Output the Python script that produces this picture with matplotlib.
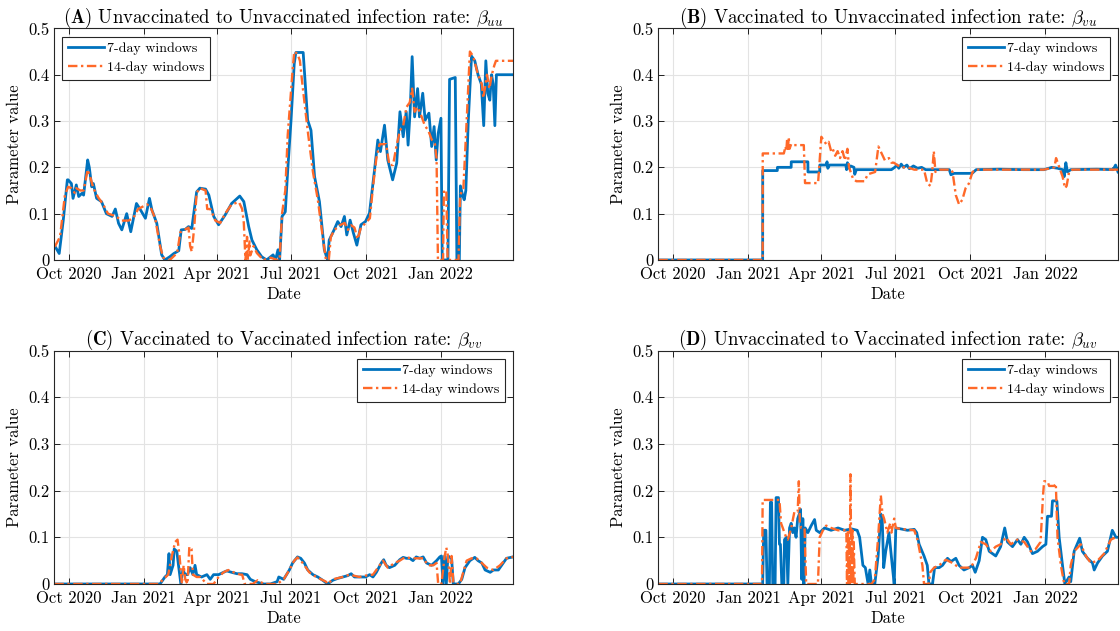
import numpy as np
import matplotlib
matplotlib.use('Agg')
import matplotlib.pyplot as plt
import matplotlib.dates as mdates
from datetime import datetime

plt.rcParams['font.family'] = ['cmr10', 'DejaVu Serif']
plt.rcParams['mathtext.fontset'] = 'cm'
plt.rcParams['axes.unicode_minus'] = False
plt.rcParams['axes.formatter.use_mathtext'] = True

# days counted from 1 Oct 2020
tick_days = [0, 92, 182, 273, 365, 457]
tick_labels = ['Oct 2020', 'Jan 2021', 'Apr 2021', 'Jul 2021', 'Oct 2021', 'Jan 2022']

a_7day = [(-18, 0.03), (-17, 0.029), (-12, 0.014), (-7, 0.086), (-2, 0.173), (-1, 0.173), (3, 0.165), (5, 0.133),
          (9, 0.162), (12, 0.137), (16, 0.144), (18, 0.14), (23, 0.216), (25, 0.20), (28, 0.158), (30, 0.165),
          (34, 0.133), (40, 0.126), (46, 0.10), (53, 0.094), (57, 0.11), (61, 0.079), (65, 0.065), (71, 0.10),
          (76, 0.061), (83, 0.122), (88, 0.108), (94, 0.09), (99, 0.133), (102, 0.108), (108, 0.079), (114, 0.011),
          (118, 0.0), (124, 0.007), (129, 0.014), (135, 0.02), (138, 0.065), (143, 0.066), (147, 0.072), (151, 0.068),
          (157, 0.147), (161, 0.155), (168, 0.153), (172, 0.14), (178, 0.094), (184, 0.076), (192, 0.097), (200, 0.122),
          (210, 0.138), (215, 0.126), (221, 0.072), (225, 0.043), (231, 0.022), (237, 0.007), (243, 0.0), (251, 0.011),
          (254, 0.0), (257, 0.022), (259, 0.0), (262, 0.094), (266, 0.104), (269, 0.194), (273, 0.30), (277, 0.424),
          (279, 0.448), (288, 0.448), (293.5, 0.302), (297.6, 0.28), (302, 0.18), (308, 0.126), (314, 0.022), (318, 0.0),
          (320, 0.043), (326, 0.065), (330.5, 0.083), (334.6, 0.072), (338.7, 0.094), (341.6, 0.054), (345.7, 0.086),
          (349.8, 0.058), (354, 0.032), (359, 0.076), (364.6, 0.083), (369.5, 0.101), (375.7, 0.194), (379.8, 0.259),
          (383, 0.234), (388, 0.291), (392, 0.216), (398, 0.173), (403, 0.209), (407, 0.32), (411, 0.266), (414.7, 0.32),
          (417, 0.248), (419.6, 0.324), (422, 0.439), (425, 0.309), (428.7, 0.37), (431, 0.309), (435, 0.36), (438, 0.302),
          (442.6, 0.317), (446, 0.245), (449, 0.288), (451.6, 0.216), (454, 0.273), (457.4, 0.306), (459, 0.0), (466, 0.0),
          (468, 0.39), (475, 0.394), (477, 0.0), (480, 0.0), (481.3, 0.16), (484, 0.14), (486, 0.13), (488, 0.15),
          (491, 0.30), (495, 0.44), (499, 0.43), (503, 0.40), (507, 0.38), (510, 0.29), (512.6, 0.43), (515, 0.36),
          (517.5, 0.345), (519.6, 0.40), (521.6, 0.38), (523.7, 0.29), (525.6, 0.40), (546, 0.40)]
a_14day = [(-18, 0.03), (-17, 0.03), (-11, 0.05), (-5, 0.14), (-1, 0.158), (3, 0.155), (7, 0.145), (9, 0.155), (14, 0.15),
           (18, 0.15), (23, 0.195), (26, 0.18), (30, 0.155), (36, 0.135), (42, 0.12), (48, 0.10), (57, 0.095), (65, 0.085),
           (73, 0.085), (79, 0.09), (85, 0.11), (96, 0.12), (100, 0.115), (106, 0.09), (112, 0.03), (116, 0.005), (124, 0.0),
           (133, 0.015), (137, 0.06), (145, 0.068), (147, 0.07), (149, 0.03), (151, 0.018), (154, 0.07), (157, 0.145),
           (161, 0.155), (168, 0.15), (170, 0.11), (174, 0.11), (180, 0.085), (186, 0.08), (192, 0.10), (200, 0.12),
           (209, 0.125), (213, 0.11), (215, 0.08), (217, 0.0), (219, 0.05), (220, 0.0), (222, 0.04), (223, 0.01),
           (227, 0.03), (231, 0.015), (239, 0.0), (248, 0.005), (256, 0.0), (259, 0.0), (262, 0.1), (266, 0.15),
           (269, 0.27), (275, 0.41), (277, 0.45), (281, 0.445), (284, 0.43), (287, 0.38), (293.5, 0.28), (300, 0.19),
           (306, 0.13), (312, 0.05), (316, 0.0), (319.5, 0.0), (322, 0.05), (326.5, 0.065), (333, 0.075), (339, 0.08),
           (343, 0.065), (347, 0.075), (351, 0.07), (355, 0.045), (359, 0.07), (365, 0.08), (370, 0.09), (374, 0.16),
           (378, 0.22), (382, 0.25), (386, 0.25), (390, 0.25), (394, 0.205), (398.5, 0.205), (402.6, 0.245), (407, 0.28),
           (411, 0.29), (415, 0.33), (419, 0.34), (422, 0.37), (425, 0.32), (429, 0.33), (433.5, 0.31), (437.6, 0.29),
           (441.7, 0.28), (446, 0.26), (450, 0.25), (452, 0.22), (453.7, 0.0), (460, 0.0), (461, 0.15), (464, 0.15),
           (465.6, 0.0), (479, 0.0), (481, 0.14), (485, 0.155), (489, 0.30), (493, 0.45), (497, 0.44), (503, 0.40),
           (507.6, 0.38), (509.6, 0.35), (514, 0.40), (517, 0.37), (520, 0.40), (523, 0.42), (525, 0.43), (546, 0.43)]

b_7day = [(-18, 0.0), (110, 0.0), (110.1, 0.193), (128, 0.193), (128.1, 0.2), (145, 0.2), (145.1, 0.212), (165.5, 0.212),
          (165.6, 0.19), (180, 0.19), (180.1, 0.205), (188, 0.205), (189, 0.212), (190, 0.198), (192, 0.205),
          (212, 0.205), (213, 0.195), (214, 0.21), (216, 0.198), (218, 0.203), (222, 0.2), (223, 0.185), (225, 0.195),
          (268, 0.195), (272, 0.2), (275, 0.205), (277, 0.198), (280, 0.207), (283, 0.2), (287, 0.205), (290, 0.197),
          (295, 0.203), (300, 0.198), (305, 0.2), (310, 0.195), (316, 0.195), (339, 0.195), (341, 0.184), (345, 0.187),
          (367, 0.187), (372, 0.195), (400, 0.196), (430, 0.195), (455, 0.195), (465, 0.2), (472, 0.198), (478, 0.195),
          (480, 0.18), (482, 0.21), (484, 0.19), (488, 0.195), (520, 0.196), (540, 0.195), (543, 0.205), (546, 0.19)]
b_14day = [(-18, 0.0), (110, 0.0), (110.1, 0.23), (136, 0.23), (138, 0.245), (139, 0.235), (140, 0.26), (141, 0.24),
           (142, 0.265), (143, 0.24), (145, 0.25), (146, 0.248), (160.5, 0.248), (162, 0.166), (178, 0.166),
           (182, 0.266), (188, 0.25), (191, 0.255), (194, 0.235), (196, 0.24), (199, 0.225), (202, 0.235), (205, 0.22),
           (208, 0.235), (211, 0.215), (214, 0.24), (216, 0.2), (221, 0.175), (225, 0.17), (235, 0.17), (239, 0.185),
           (248, 0.19), (252, 0.245), (256, 0.23), (260, 0.215), (265, 0.22), (268, 0.21), (271, 0.21), (275, 0.205),
           (280, 0.2), (288, 0.2), (296, 0.195), (308, 0.195), (312, 0.165), (316, 0.16), (318, 0.19), (320, 0.235),
           (322, 0.19), (327, 0.195), (341, 0.195), (343, 0.19), (347, 0.14), (351, 0.12), (355, 0.13), (359, 0.155),
           (363, 0.165), (367.5, 0.19), (372, 0.195), (455, 0.195), (468, 0.2), (470, 0.22), (474, 0.2), (478, 0.18),
           (481, 0.155), (483, 0.16), (486, 0.19), (490, 0.195), (546, 0.195)]

c_7day = [(-18, 0.0), (112, 0.0), (118, 0.015), (121, 0.02), (123, 0.065), (124.4, 0.02), (128, 0.04), (129.4, 0.075),
          (132.6, 0.07), (134.7, 0.04), (137.6, 0.0), (140, 0.03), (143, 0.02), (145.8, 0.02), (149, 0.035),
          (152.4, 0.02), (155, 0.04), (157, 0.02), (163, 0.015), (169.6, 0.02), (173.7, 0.01), (177.8, 0.02), (184, 0.02),
          (190, 0.025), (194, 0.028), (200, 0.025), (206.6, 0.022), (212.7, 0.022), (219, 0.02), (223, 0.01),
          (229, 0.005), (239.4, 0.0), (247.6, 0.0), (256, 0.005), (258, 0.015), (264, 0.01), (271, 0.03), (275, 0.045),
          (281, 0.058), (285, 0.055), (289.5, 0.045), (293.6, 0.03), (300, 0.02), (306, 0.015), (312, 0.008), (318, 0.0),
          (324.4, 0.008), (330.6, 0.012), (336.8, 0.015), (343, 0.018), (347, 0.022), (351, 0.015), (357, 0.015),
          (364.8, 0.015), (369.7, 0.02), (373.8, 0.015), (378, 0.025), (384, 0.045), (387, 0.052), (390, 0.04),
          (394, 0.035), (400.6, 0.04), (406.7, 0.052), (410.9, 0.057), (415, 0.055), (419, 0.055), (423, 0.05),
          (427, 0.058), (431.4, 0.055), (435.5, 0.058), (439.7, 0.045), (445.8, 0.04), (452, 0.05), (456, 0.058),
          (458, 0.06), (460, 0.0), (462, 0.06), (464, 0.0), (466, 0.06), (470.5, 0.055), (472.6, 0.0), (478.8, 0.0),
          (483, 0.01), (487, 0.035), (493, 0.05), (499, 0.057), (503, 0.05), (507.6, 0.045), (511.7, 0.03), (518, 0.025),
          (522, 0.03), (528, 0.03), (532, 0.04), (538, 0.055), (546, 0.058)]
c_14day = [(-18, 0.0), (110, 0.0), (116, 0.01), (122, 0.02), (126.5, 0.06), (130.6, 0.09), (133.5, 0.095), (136, 0.06),
           (138.8, 0.0), (141, 0.04), (143, 0.01), (145.8, 0.0), (148, 0.08), (150.7, 0.075), (152.4, 0.02), (157, 0.015),
           (161.4, 0.015), (169.6, 0.0), (177.8, 0.0), (184, 0.015), (190, 0.025), (196, 0.03), (202.5, 0.025),
           (210.7, 0.02), (213, 0.02), (216, 0.0), (226, 0.0), (232, 0.008), (240, 0.0), (256, 0.0), (264, 0.01),
           (271, 0.03), (277, 0.05), (281, 0.057), (287.4, 0.045), (295.6, 0.025), (304, 0.015), (310, 0.01),
           (316, 0.005), (318, 0.0), (324.4, 0.01), (336.8, 0.015), (345, 0.02), (357, 0.015), (364.8, 0.018),
           (373.8, 0.02), (382, 0.04), (386, 0.05), (392, 0.035), (400.6, 0.045), (406.7, 0.05), (413, 0.057),
           (423, 0.055), (435.5, 0.055), (441.7, 0.04), (448, 0.04), (452, 0.045), (454, 0.0), (458, 0.0), (462, 0.06),
           (464, 0.078), (466, 0.06), (468.5, 0.0), (470.5, 0.06), (472.6, 0.005), (476.7, 0.0), (480.8, 0.0),
           (484, 0.02), (489, 0.05), (495, 0.055), (501, 0.055), (507.6, 0.045), (513.7, 0.035), (522, 0.03),
           (530, 0.04), (538, 0.055), (546, 0.058)]

d_7day = [(-18, 0.0), (110, 0.0), (111.3, 0.115), (114, 0.115), (115.4, 0.0), (118.3, 0.0), (119.5, 0.175), (121, 0.175),
          (122.4, 0.0), (125.3, 0.0), (126.5, 0.185), (129.4, 0.185), (130.6, 0.085), (131.8, 0.085), (133.5, 0.0),
          (136, 0.0), (136.8, 0.095), (139.2, 0.1), (140.9, 0.0), (143, 0.12), (145, 0.13), (147, 0.11), (149, 0.12),
          (151, 0.1), (153, 0.14), (155, 0.15), (156.5, 0.16), (158, 0.01), (159.3, 0.14), (160.6, 0.0), (162.2, 0.12),
          (165.5, 0.11), (169.6, 0.125), (173.7, 0.138), (175.8, 0.115), (180, 0.11), (186, 0.12), (194, 0.115),
          (202.5, 0.12), (210.7, 0.115), (219, 0.118), (226, 0.115), (229, 0.1), (233, 0.04), (236, 0.035),
          (239.4, 0.0), (241.5, 0.03), (243.5, 0.0), (247.6, 0.0), (251.7, 0.06), (255, 0.15), (256.7, 0.14),
          (258.5, 0.035), (261, 0.07), (265, 0.11), (269, 0.04), (271.4, 0.0), (273.4, 0.12), (279.5, 0.118),
          (287.7, 0.115), (296, 0.117), (299, 0.11), (302, 0.085), (308, 0.06), (312, 0.04), (314, 0.0), (318.4, 0.0),
          (321, 0.035), (326.6, 0.035), (330.7, 0.04), (336.8, 0.055), (341, 0.048), (347, 0.055), (351, 0.04),
          (357, 0.03), (363.4, 0.035), (367.5, 0.04), (370.8, 0.025), (375.7, 0.05), (379.7, 0.1), (383.8, 0.095),
          (388, 0.07), (396, 0.06), (402, 0.08), (407, 0.12), (410.4, 0.09), (416.6, 0.08), (422.7, 0.095),
          (426.8, 0.085), (430.9, 0.1), (435, 0.09), (441, 0.065), (447.2, 0.07), (453.4, 0.08), (457.5, 0.085),
          (459.5, 0.145), (464.4, 0.145), (465.6, 0.178), (471, 0.178), (473.8, 0.1), (477.9, 0.04), (480.8, 0.0),
          (486, 0.015), (488, 0.005), (492.2, 0.07), (499, 0.098), (502.3, 0.07), (508.6, 0.055), (514.7, 0.045),
          (516.8, 0.03), (520.9, 0.045), (527, 0.06), (533, 0.07), (539, 0.115), (543.4, 0.1), (546, 0.1)]
d_14day = [(-18, 0.0), (109.2, 0.0), (110, 0.18), (130.6, 0.18), (132.6, 0.13), (134.7, 0.12), (138.8, 0.1),
           (140.9, 0.095), (145, 0.12), (149, 0.155), (153, 0.155), (154.4, 0.22), (155.6, 0.13), (157.3, 0.12),
           (161.4, 0.12), (163.4, 0.0), (177.8, 0.0), (180, 0.1), (184, 0.115), (188, 0.125), (194, 0.12),
           (202.5, 0.115), (212.7, 0.115), (213.5, 0.0), (214.5, 0.115), (215.3, 0.0), (216, 0.1), (216.8, 0.0),
           (217.7, 0.235), (219, 0.0), (220, 0.12), (221, 0.0), (221.8, 0.09), (223, 0.0), (243.5, 0.0), (247.6, 0.01),
           (251.7, 0.1), (255, 0.19), (257, 0.15), (259, 0.14), (263, 0.11), (266.5, 0.13), (268, 0.11), (271.4, 0.14),
           (273.4, 0.12), (279.5, 0.118), (296, 0.115), (300, 0.095), (306, 0.04), (308, 0.0), (314, 0.0),
           (315.5, 0.025), (320.4, 0.035), (326.6, 0.04), (334.8, 0.052), (343, 0.045), (351, 0.035), (365.4, 0.035),
           (371.6, 0.055), (377.7, 0.09), (383.8, 0.085), (390, 0.07), (396, 0.08), (402, 0.085), (408.4, 0.1),
           (414.5, 0.085), (422.7, 0.095), (430.9, 0.09), (439, 0.07), (445, 0.075), (451, 0.09), (454, 0.19),
           (455.4, 0.22), (459.5, 0.22), (461.5, 0.21), (467.7, 0.21), (469.7, 0.215), (471.8, 0.1), (475.9, 0.04),
           (480, 0.0), (486, 0.0), (488, 0.04), (492.2, 0.07), (500.4, 0.085), (506.5, 0.06), (512.7, 0.045),
           (520.9, 0.05), (529, 0.065), (537.2, 0.095), (543.4, 0.1), (546, 0.1)]

titles = [r'$\mathbf{(A)}$ Unvaccinated to Unvaccinated infection rate: $\beta_{uu}$',
          r'$\mathbf{(B)}$ Vaccinated to Unvaccinated infection rate: $\beta_{vu}$',
          r'$\mathbf{(C)}$ Vaccinated to Vaccinated infection rate: $\beta_{vv}$',
          r'$\mathbf{(D)}$ Unvaccinated to Vaccinated infection rate: $\beta_{uv}$']
series = [(a_7day, a_14day), (b_7day, b_14day), (c_7day, c_14day), (d_7day, d_14day)]
legend_locs = ['upper left', 'upper right', 'upper right', 'upper right']
positions = [[54/1120, 0.588, 459/1120, 0.367], [658/1120, 0.588, 460/1120, 0.367],
             [54/1120, 0.0745, 459/1120, 0.37], [658/1120, 0.0745, 460/1120, 0.37]]

blue = '#0072BD'
orange = '#FF6929'
base = mdates.date2num(datetime(2020, 10, 1))

fig = plt.figure(figsize=(11.2, 6.31), dpi=100)
for pos, title, (s7, s14), loc in zip(positions, titles, series, legend_locs):
    ax = fig.add_axes(pos)
    d7, v7 = zip(*s7)
    d14, v14 = zip(*s14)
    ax.plot(base + np.array(d7), v7, color=blue, lw=2.0, label='7-day windows')
    ax.plot(base + np.array(d14), v14, color=orange, lw=1.7, ls=(0, (4, 1.5, 1, 1.5)), label='14-day windows')
    ax.set_xlim(base - 18.4, base + 546)
    ax.set_ylim(0, 0.5)
    ax.set_xticks(base + np.array(tick_days))
    ax.set_xticklabels(tick_labels)
    ax.set_yticks([0, 0.1, 0.2, 0.3, 0.4, 0.5])
    ax.set_yticklabels(['0', '0.1', '0.2', '0.3', '0.4', '0.5'])
    ax.tick_params(direction='in', top=True, right=True, labelsize=12, length=4, width=0.6, pad=3)
    ax.tick_params(axis='x', pad=5)
    ax.grid(True, color='#e3e3e3', lw=0.8)
    ax.set_axisbelow(True)
    for sp in ax.spines.values():
        sp.set_color('#262626')
        sp.set_linewidth(0.8)
    ax.set_xlabel('Date', fontsize=12, labelpad=3)
    ax.set_ylabel('Parameter value', fontsize=12, labelpad=5)
    ax.set_title(title, fontsize=13.5, pad=4)
    leg = ax.legend(loc=loc, fontsize=10, fancybox=False, framealpha=1, edgecolor='#262626',
                    handlelength=2.6, handletextpad=0.2, borderpad=0.4, labelspacing=0.45, borderaxespad=0.6)
    leg.get_frame().set_linewidth(0.8)

fig.savefig('out.png', dpi=100)
